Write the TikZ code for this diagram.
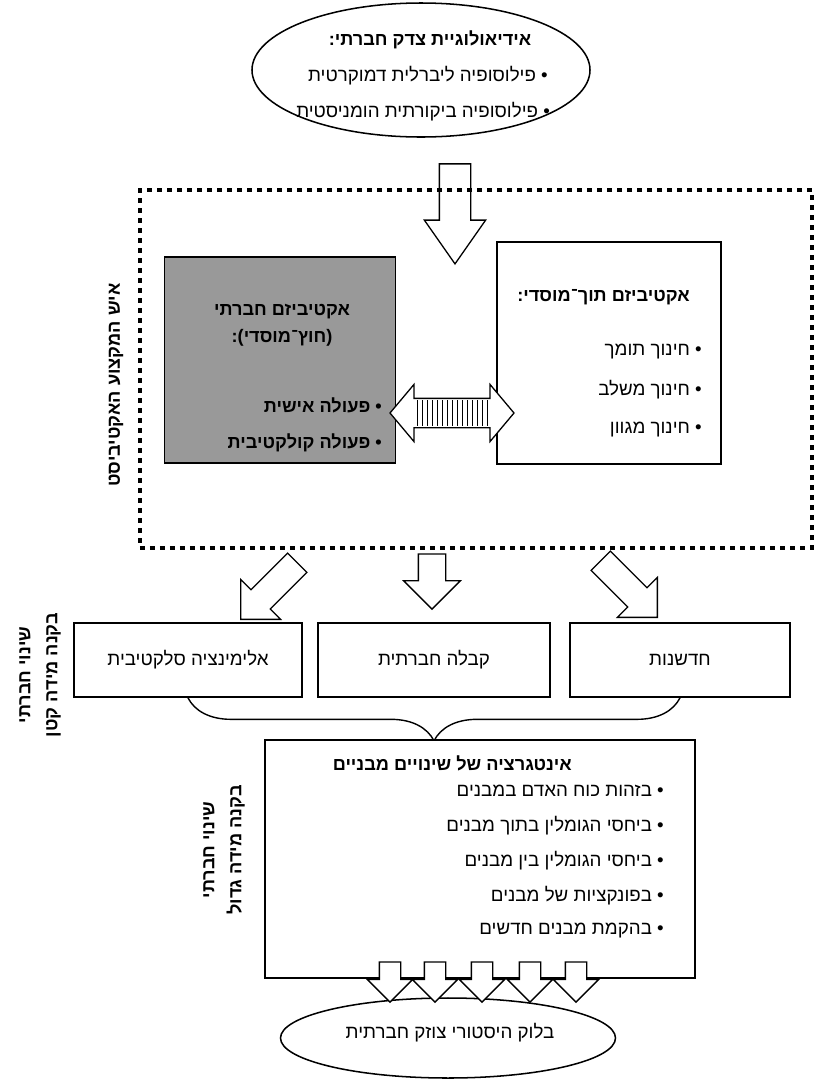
\documentclass[tikz,border=0pt]{standalone}
\usepackage{fontspec}
\setmainfont{Liberation Sans}[Script=Hebrew]
\TeXXeTstate=1
\usetikzlibrary{shapes.geometric, shapes.arrows, decorations.pathreplacing}
\newcommand{\hebline}[1]{\beginR #1\endR}
\tikzstyle{heb} = [inner sep=0pt, font=\fontsize{16}{19}\selectfont]
\tikzstyle{hebbold} = [inner sep=0pt, font=\fontsize{15.5}{19}\selectfont\bfseries]
\tikzstyle{oval} = [ellipse, draw, line width=1.3pt, fill=white]
\tikzstyle{boxframe} = [draw, line width=1.4pt]
\tikzstyle{changebox} = [boxframe, fill=white, minimum height=2.22cm, font=\fontsize{16}{19}\selectfont]
\tikzstyle{blockarrow} = [single arrow, draw, fill=white, line width=1.1pt, inner xsep=0pt, anchor=tip]

\begin{document}
\begin{tikzpicture}[x=0.03cm, y=-0.03cm]
        \useasboundingbox (0,0) rectangle (823,1079);

        %ideology
        \node[oval, minimum width=10.14cm, minimum height=4.02cm] (ideol) at (421,70) {};
        \node[hebbold] (ideolt) at (430,40) {\hebline{אידיאולוגיית צדק חברתי:}};
        \node[heb, anchor=east] (ideol1) at (548,76) {\hebline{• פילוסופיה ליברלית דמוקרטית}};
        \node[heb, anchor=east] (ideol2) at (550,112) {\hebline{• פילוסופיה ביקורתית הומניסטית}};

        %arrow into the activist frame
        \node[blockarrow, rotate=-90, minimum height=3cm, inner ysep=0.45cm, single arrow head extend=0.45cm, single arrow tip angle=70] (down) at (455,265) {};

        %activist frame
        \node[draw, line width=0.14cm, dash pattern=on 0.14cm off 0.16cm, minimum width=20.16cm, minimum height=10.74cm] (activist) at (476,369) {};
        \node[hebbold, rotate=90] (activistl) at (116,385) {\hebline{איש המקצוע האקטיביסט}};

        %extra-institutional
        \node[boxframe, fill=black!40, minimum width=6.93cm, minimum height=6.18cm] (extra) at (280,360) {};
        \node[hebbold] (extrat1) at (282,312) {\hebline{אקטיביזם חברתי}};
        \node[hebbold] (extrat2) at (282,338) {\hebline{(חוץ־מוסדי):}};
        \node[hebbold, anchor=east] (extra1) at (382,405) {\hebline{• פעולה אישית}};
        \node[hebbold, anchor=east] (extra2) at (382,443) {\hebline{• פעולה קולקטיבית}};

        %intra-institutional
        \node[boxframe, fill=white, minimum width=6.72cm, minimum height=6.66cm] (intra) at (609,353) {};
        \node[hebbold, anchor=east] (intrat) at (690,297) {\hebline{אקטיביזם תוך־מוסדי:}};
        \node[heb, anchor=east] (intra1) at (702,352) {\hebline{• חינוך תומך}};
        \node[heb, anchor=east] (intra2) at (702,390) {\hebline{• חינוך משלב}};
        \node[heb, anchor=east] (intra3) at (702,430) {\hebline{• חינוך מגוון}};

        %two way arrow
        \node[double arrow, draw, fill=white, line width=1.1pt, inner xsep=0pt, inner ysep=0.42cm, minimum height=3.72cm, double arrow head extend=0.42cm, double arrow tip angle=100] (link) at (452,413) {};
        \foreach \x in {417,422,...,487}
            \draw[line width=0.8pt] (\x,400) -- (\x,426);

        %arrows out of the frame
        \node[blockarrow, rotate=-135, minimum height=2.4cm, inner ysep=0.39cm, single arrow head extend=0.44cm] (toelim) at (240,620) {};
        \node[blockarrow, rotate=-90, minimum height=1.65cm, inner ysep=0.39cm, single arrow head extend=0.44cm] (toaccept) at (432,610) {};
        \node[blockarrow, rotate=-45, minimum height=2.4cm, inner ysep=0.39cm, single arrow head extend=0.44cm] (toinnov) at (658,618) {};

        %small scale change
        \node[changebox, minimum width=6.84cm] (elim) at (188,660) {\hebline{אלימינציה סלקטיבית}};
        \node[changebox, minimum width=6.96cm] (accept) at (434,660) {\hebline{קבלה חברתית}};
        \node[changebox, minimum width=6.6cm] (innov) at (680,660) {\hebline{חדשנות}};
        \node[hebbold, rotate=90, align=center] (smalll) at (40,675) {\hebline{שינוי חברתי}\\[4pt]\hebline{בקנה מידה קטן}};

        \draw[line width=1.2pt, decorate, decoration={brace, mirror, amplitude=1.29cm}] (elim.south) -- (innov.south);

        %structural integration
        \node[boxframe, fill=white, minimum width=12.9cm, minimum height=7.14cm] (integ) at (480,859) {};
        \node[hebbold, anchor=east] (integt) at (572,763) {\hebline{אינטגרציה של שינויים מבניים}};
        \node[heb, anchor=east] (integ1) at (664,791) {\hebline{• בזהות כוח האדם במבנים}};
        \node[heb, anchor=east] (integ2) at (664,826) {\hebline{• ביחסי הגומלין בתוך מבנים}};
        \node[heb, anchor=east] (integ3) at (664,861) {\hebline{• ביחסי הגומלין בין מבנים}};
        \node[heb, anchor=east] (integ4) at (664,896) {\hebline{• בפונקציות של מבנים}};
        \node[heb, anchor=east] (integ5) at (664,931) {\hebline{• בהקמת מבנים חדשים}};
        \node[hebbold, rotate=90, align=center] (largel) at (224,850) {\hebline{שינוי חברתי}\\[4pt]\hebline{בקנה מידה גדול}};

        %historic bloc
        \node[oval, minimum width=10.05cm, minimum height=2.4cm] (bloc) at (448,1038) {};
        \node[heb] (bloct) at (450,1033) {\hebline{בלוק היסטורי צוזק חברתית}};
        \foreach \x [count=\i] in {390,435,482,530,576}
            \node[blockarrow, rotate=-90, minimum height=1.2cm, inner ysep=0.3cm, single arrow head extend=0.36cm] (out\i) at (\x,1003) {};

\end{tikzpicture}
\end{document}
